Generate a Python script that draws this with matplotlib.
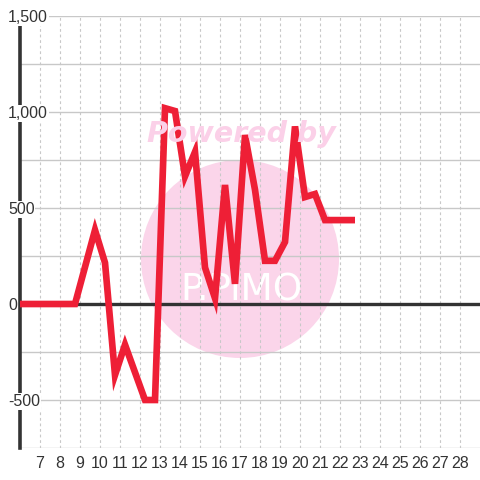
import matplotlib
matplotlib.use("Agg")
import matplotlib.pyplot as plt
import matplotlib.transforms as mtransforms
from matplotlib.patches import Circle

plt.rcParams['font.family'] = ['Liberation Sans', 'DejaVu Sans']

# data (x = day of month, half-day steps)
days = [5.75, 6.25, 6.75, 7.25, 7.75, 8.25, 8.75, 9.75, 10.25, 10.75, 11.25,
        12.25, 12.75, 13.25, 13.75, 14.25, 14.75, 15.25, 15.75, 16.25, 16.75,
        17.25, 17.75, 18.25, 18.75, 19.25, 19.75, 20.25, 20.75, 21.25, 21.75,
        22.25, 22.75]
values = [0, 0, 0, 0, 0, 0, 0, 385, 215, -370, -212,
          -500, -500, 1020, 1005, 665, 792, 190, 30, 620, 105,
          880, 595, 225, 225, 323, 925, 557, 573, 437, 437,
          437, 437]
x_ticks = list(range(7, 29))
y_labels = [-500, 0, 500, 1000, 1500]

fig = plt.figure(figsize=(4.8, 4.8), dpi=100)
ax = fig.add_axes([20/480, 32/480, 460/480, 432/480])
ax.set_facecolor('white')

ax.set_xlim(6, 29)
ax.set_ylim(-750, 1500)
ax.set_axisbelow(True)

# grid
ax.set_yticks(range(-750, 1501, 250))
ax.set_yticklabels([])
ax.tick_params(axis='y', length=0)
ax.set_xticks(x_ticks)
ax.set_xticklabels([str(t) for t in x_ticks], fontsize=11.5, color='#333333')
ax.tick_params(axis='x', length=0, pad=6)
ax.grid(axis='y', color='#c8c8c8', lw=1.0, ls='-')
ax.grid(axis='x', color='#c8c8c8', lw=0.8, ls=(0, (2.5, 2.5)))

for s in ['top', 'right', 'bottom']:
    ax.spines[s].set_visible(False)
ax.spines['left'].set_color('#333333')
ax.spines['left'].set_linewidth(2.6)
ax.spines['left'].set_bounds(-750, 1465)
ax.spines['left'].set_zorder(2.6)

ax.axhline(0, color='#333333', lw=2.4, zorder=2)

# y labels drawn over the axis line
trans = mtransforms.blended_transform_factory(ax.transAxes, ax.transData)
for v in y_labels:
    ax.text(-12/460, v - 8, f"{v:,}", transform=trans, ha='left', va='center',
            fontsize=11.5, color='#333333', zorder=5, clip_on=False,
            bbox=dict(facecolor='white', edgecolor='none', pad=0.5))

# watermark
ax.add_patch(Circle((240/480, 1 - 259/480), 99/480, transform=fig.transFigure,
                    facecolor='#fbd5ea', edgecolor='none', zorder=0.2, clip_on=False))
fig.text(241/480, 1 - 134/480, 'Powered by', ha='center', va='center',
         fontsize=20.5, fontweight='bold', style='italic', color='#fbd0e8',
         family='DejaVu Sans', zorder=0.3)
ax.text(241/480, 1 - 289/480, 'P.PiMO', transform=fig.transFigure, ha='center',
        va='center', fontsize=27, color='white', family='DejaVu Sans',
        zorder=0.3)

ax.plot(days, values, color='#ee1f36', lw=4.8, solid_joinstyle='miter',
        solid_capstyle='butt', zorder=3)

fig.savefig('out.png', dpi=100, facecolor='white')
